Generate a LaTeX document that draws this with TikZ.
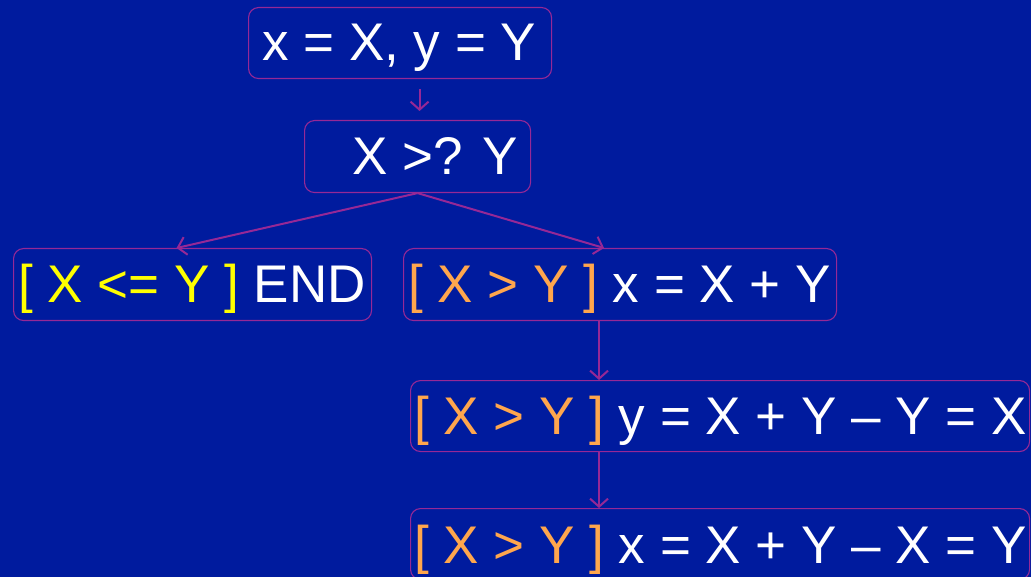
\documentclass[tikz,border=0pt]{standalone}
\usepackage{fontspec}
\setmainfont{Liberation Sans}
\usetikzlibrary{arrows.meta}
\definecolor{bgblue}{RGB}{0,27,158}
\definecolor{edgepurple}{RGB}{150,40,150}
\definecolor{condorange}{RGB}{255,166,77}
\definecolor{condyellow}{RGB}{255,255,0}
\begin{document}
\begin{tikzpicture}[x=1pt,y=-1pt,
  box/.style={draw=edgepurple, line width=1.1pt, rounded corners=10pt,
    anchor=north west, inner sep=0pt},
  boxtext/.style={anchor=base west, inner sep=0pt, text=white,
    font=\fontsize{53}{60}\selectfont},
  flow/.style={draw=edgepurple, line width=2pt,
    -{Straight Barb[length=8pt,width=18pt]}}]
% canvas
\fill[bgblue] (0,0) rectangle (1031,577);
\useasboundingbox (0,0) rectangle (1031,577);

% boxes
\node[box, minimum width=303pt, minimum height=71pt] (init)  at (248,7)   {};
\node[box, minimum width=226pt, minimum height=72pt] (test)  at (304,120) {};
\node[box, minimum width=358pt, minimum height=72pt] (stop)  at (13,248)  {};
\node[box, minimum width=433pt, minimum height=72pt] (sum)   at (403,248) {};
\node[box, minimum width=619pt, minimum height=71pt] (swapy) at (410,380) {};
\node[box, minimum width=619pt, minimum height=71pt] (swapx) at (410,508) {};

% texts
\node[boxtext] (initt)  at (262,61)  {x = X, y = Y};
\node[boxtext] (testt)  at (352,175) {X >? Y};
\node[boxtext] (stopt)  at (18,303)  {{\color{condyellow}[ X <= Y ]} END};
\node[boxtext] (sumt)   at (408,303) {{\color{condorange}[ X > Y ]} x = X + Y};
\node[boxtext] (swapyt) at (414,434) {{\color{condorange}[ X > Y ]} y = X + Y – Y = X};
\node[boxtext] (swapxt) at (414,563) {{\color{condorange}[ X > Y ]} x = X + Y – X = Y};

% connectors
\draw[flow, shorten <=10pt, shorten >=9pt] ([xshift=2pt]init.south -| test.north) -- ([xshift=2pt]test.north);
\draw[flow] (test.south) -- ([xshift=-16pt]stop.north);
\draw[flow] (test.south) -- ([xshift=-16pt]sum.north);
\draw[flow] ([xshift=-21pt]sum.south) -- ([xshift=-21pt]sum.south |- swapy.north);
\draw[flow] ([xshift=-21pt]sum.south |- swapy.south) -- ([xshift=-21pt]sum.south |- swapx.north);
\end{tikzpicture}
\end{document}
